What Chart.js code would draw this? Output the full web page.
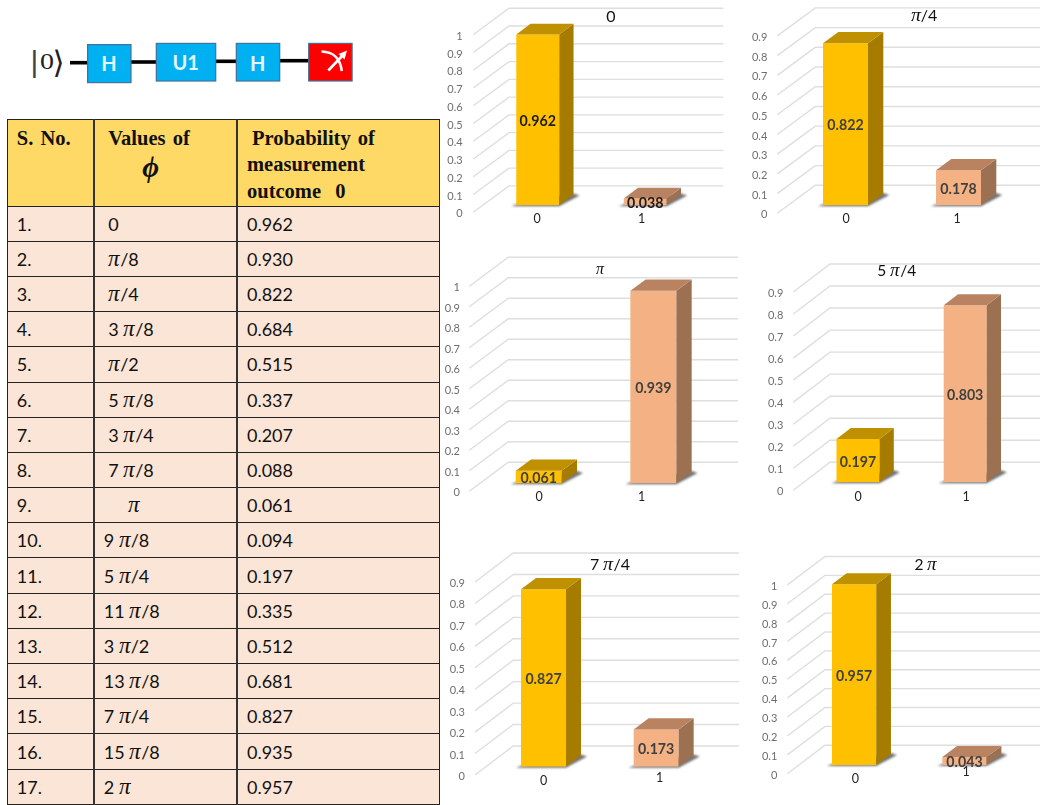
<!DOCTYPE html>
<html><head><meta charset="utf-8">
<script src="https://cdn.jsdelivr.net/npm/chart.js@4/dist/chart.umd.min.js"></script>
<style>
@font-face{font-family:"PiItalic";src:local("Liberation Serif Italic");unicode-range:U+03C0;size-adjust:125%;}
html,body{margin:0;padding:0;background:#fff;width:1041px;height:805px;overflow:hidden;}
canvas{position:absolute;display:block;}
#circuit{position:absolute;left:0;top:0;}
table{position:absolute;left:7.3px;top:119.3px;width:432px;border-collapse:collapse;table-layout:fixed;
 font:18px "PiItalic",Lato,sans-serif;color:#111;}
td,th{border:1.5px solid #222;background:#FBE5D6;padding:0 0 0 8.5px;height:35.2px;box-sizing:border-box;text-align:left;font-weight:400;white-space:pre;overflow:hidden;}
td:nth-child(2),th:nth-child(2),td:nth-child(3),th:nth-child(3){border-left:2px solid #333;}
th{background:#FFD966;height:86.3px;vertical-align:top;font:bold 20.5px/26.5px "Liberation Serif",serif;padding-top:4.5px;word-spacing:2px;}
.phi{display:block;font:italic bold 29px/33px "Liberation Serif","DejaVu Serif",serif;padding-left:34px;}
</style></head><body>
<svg id="circuit" width="440" height="110" xmlns="http://www.w3.org/2000/svg">
 <g stroke="#000" stroke-width="3.6">
  <line x1="70" y1="62.7" x2="88" y2="62.7"/><line x1="131" y1="62" x2="156" y2="62"/>
  <line x1="216" y1="61.3" x2="236" y2="61.3"/><line x1="280" y1="60.7" x2="309" y2="60.7"/>
 </g>
 <g fill="#00B0F0" stroke="#41719C" stroke-width="1.2">
  <rect x="87.6" y="44.6" width="43.4" height="38"/><rect x="156.3" y="43.4" width="59.4" height="37.6"/><rect x="236.3" y="43.4" width="43.4" height="37.6"/>
 </g>
 <rect x="308.7" y="43.4" width="43.4" height="37.6" fill="#FF0000" stroke="#41719C" stroke-width="1.2"/>
 <g font-family="Lato,sans-serif" font-weight="700" font-size="20" fill="#E6F6FD" text-anchor="middle" dominant-baseline="central">
  <text x="109" y="63.3">H</text><text x="185.7" y="62.3">U1</text><text x="257.7" y="62.7">H</text>
 </g>
 <g fill="none" stroke="#fff" stroke-width="2.6">
  <path d="M321.5 51.5 C333 52 340 57 341.8 71"/><line x1="328.3" y1="70.5" x2="343" y2="55"/>
 </g>
 <path d="M347 50.5 L338.5 54 L344.5 59.5 Z" fill="#fff"/>
 <g fill="#222">
  <text x="30.5" y="72" font-family="Liberation Sans,sans-serif" font-size="30" fill="#444">|</text>
  <text x="40" y="68.5" font-family="Liberation Serif,serif" font-size="23" textLength="14" lengthAdjust="spacingAndGlyphs">0</text>
  <text x="52.5" y="73" font-family="DejaVu Sans,sans-serif" font-size="31">⟩</text>
 </g>
</svg>
<table id="tbl"><colgroup><col style="width:86.4px"><col style="width:143.3px"><col style="width:202.3px"></colgroup>
<thead><tr><th>S. No.</th><th style="padding-left:13px">Values of<span class="phi">ϕ</span></th><th><span style="margin-left:5px">Probability of</span>
measurement
outcome  0</th></tr></thead><tbody id="rows"></tbody></table>
<script>
// ---- table data ----
const serialNumbers=['1.','2.','3.','4.','5.','6.','7.','8.','9.','10.','11.','12.','13.','14.','15.','16.','17.'];
const phaseValues=['0','π/8','π/4','3 π/8','π/2','5 π/8','3 π/4','7 π/8','π','9 π/8','5 π/4','11 π/8','3 π/2','13 π/8','7 π/4','15 π/8','2 π'];
const probabilityOfZero=['0.962','0.930','0.822','0.684','0.515','0.337','0.207','0.088','0.061','0.094','0.197','0.335','0.512','0.681','0.827','0.935','0.957'];
// ---- chart data ----
const categories=['0','1'];
const chartTitles=['0','π/4','π','5 π/4','7 π/4','2 π'];
const outcomeZero=[0.962,0.822,0.061,0.197,0.827,0.957];
const outcomeOne=[0.038,0.178,0.939,0.803,0.173,0.043];
const axisMax=[1,0.9,1,0.9,0.9,1];
// ---- layout and style ----
const frames=[
 {box:[442,0,290,232],plot:[484,699,27.7,205.3],grid:[473.3,509,723.3,7,-19.4],depth:[14.3,10.7],lab:462.7,title:[611,17,16],xl:[[537,219.3],[641.7,219.3]],ink:'#1c1c1c'},
 {box:[742,0,299,232],plot:[789,1015,27.9,205.3],grid:[777.3,815.3,1040,8,-20],depth:[15.3,11.3],lab:767.3,title:[924,15.7,16],xl:[[846,219.3],[957,219.3]],ink:'#404040'},
 {box:[442,250,296,256],plot:[481.4,710.7,278.3,483.3],grid:[469.3,508.3,738,8,-21],depth:[15.3,11.3],lab:460,title:[600,270,13],xl:[[539,496.7],[641.7,496.7]],ink:'#404040'},
 {box:[742,250,299,256],plot:[804.4,1018.8,284,482.3],grid:[793.3,830,1040,8,-20],depth:[14.3,11],lab:783.3,title:[896.7,270.7,15.5],xl:[[858,496.7],[966,496.7]],ink:'#404040'},
 {box:[442,545,298,250],plot:[487.2,712.5,573.7,766.7],grid:[475,513.3,739,8.3,-20.7],depth:[15,11.3],lab:465,title:[610,565,16],xl:[[543.7,780.7],[659.7,777.7]],ink:'#404040'},
 {box:[742,545,299,250],plot:[798.9,1019.7,576.2,765],grid:[787.3,825,1040,8.7,-19.7],depth:[14.7,11],lab:777.3,title:[926,564.5,15.5],xl:[[855.3,779.3],[966,771.7]],ink:'#404040'}
];
const barWidths=[43,45,46,43,45,44.3];
const frontColors=['#FFC000','#F4B183'];
const topColors=['#BF9000','#B98361'];
const sideColors=['#A67C00','#9C7151'];
const phaseIndent=i=>i<8?13:(i===8?33:8.5);

const rows=document.getElementById('rows');
serialNumbers.forEach((s,i)=>{
  const tr=document.createElement('tr');
  [s,phaseValues[i],probabilityOfZero[i]].forEach((t,j)=>{
    const td=document.createElement('td');td.textContent=t;
    if(j===1)td.style.paddingLeft=phaseIndent(i)+'px';
    tr.appendChild(td);
  });
  rows.appendChild(tr);
});

function face(ctx,pts,color){ctx.beginPath();pts.forEach((p,i)=>i?ctx.lineTo(p[0],p[1]):ctx.moveTo(p[0],p[1]));ctx.closePath();ctx.fillStyle=color;ctx.fill();}

const depthPlugin={
  id:'depth3d',
  afterLayout(chart,a,o){
    const t=chart.titleBlock,f=o.frame,b=f.box,s=f.title[2];
    t.left=f.title[0]-b[0]-60;t.right=f.title[0]-b[0]+60;t.top=f.title[1]-b[1]-s/2;t.bottom=t.top+s;
  },
  beforeDraw(chart,a,o){
    const sc=chart.scales.x,f=o.frame;
    sc.getLabelItems(chart.chartArea).forEach((it,i)=>{
      it.textOffset=0;it.options.textBaseline='middle';
      it.options.translation=[f.xl[i][0]-f.box[0],f.xl[i][1]-f.box[1]];
    });
  },
  beforeDatasetsDraw(chart,a,o){
    const ctx=chart.ctx,f=o.frame,b=f.box,y=chart.scales.y,g=f.grid;
    const xFront=g[0]-b[0],xBack=g[1]-b[0],xEnd=g[2]-b[0];
    ctx.save();ctx.strokeStyle='#DEDEDE';ctx.lineWidth=1.4;
    y.ticks.forEach(t=>{
      const py=y.getPixelForValue(t.value);
      ctx.beginPath();ctx.moveTo(xFront,py+g[3]);ctx.lineTo(xBack,py+g[4]);ctx.lineTo(xEnd,py+g[4]);ctx.stroke();
    });
    // cast shadow on the floor
    const [dx,dy]=f.depth;
    ctx.filter='blur(0.8px)';
    chart.getDatasetMeta(0).data.forEach(el=>{
      const L=el.x-el.width/2,R=el.x+el.width/2,B=el.base;
      face(ctx,[[L-5,B+1],[R,B+1],[R+dx+6,B-dy+1],[R+dx,B-dy-1],[L,B-1]],'rgba(70,70,70,0.75)');
    });
    ctx.restore();
  },
  afterDatasetsDraw(chart,a,o){
    const ctx=chart.ctx,f=o.frame,[dx,dy]=f.depth,ds=chart.data.datasets[0];
    ctx.save();
    chart.getDatasetMeta(0).data.forEach((el,i)=>{
      const L=el.x-el.width/2,R=el.x+el.width/2,T=el.y,B=el.base;
      face(ctx,[[R,B],[R+dx,B-dy],[R+dx,T-dy],[R,T]],sideColors[i]);
      face(ctx,[[L,T],[L+dx,T-dy],[R+dx,T-dy],[R,T]],topColors[i]);
    });
    ctx.font='bold 14.2px Lato,sans-serif';ctx.textAlign='center';ctx.textBaseline='middle';ctx.fillStyle=f.ink;
    chart.getDatasetMeta(0).data.forEach((el,i)=>{
      ctx.fillText(ds.data[i].toFixed(3),el.x,(el.y+el.base)/2+1.5);
    });
    ctx.restore();
  }
};

const charts=frames.map((f,k)=>{
  const b=f.box,p=f.plot,s=f.title[2];
  const cv=document.createElement('canvas');
  cv.width=b[2];cv.height=b[3];
  cv.style.left=b[0]+'px';cv.style.top=b[1]+'px';cv.style.width=b[2]+'px';cv.style.height=b[3]+'px';
  document.body.appendChild(cv);
  const band=(p[1]-p[0])/2;
  return new Chart(cv,{
    type:'bar',
    data:{labels:categories,datasets:[{data:[outcomeZero[k],outcomeOne[k]],backgroundColor:frontColors,borderWidth:0,barPercentage:barWidths[k]/band,categoryPercentage:1}]},
    plugins:[depthPlugin],
    options:{
      responsive:false,animation:false,
      layout:{padding:{top:p[2]-b[1]-s,left:0,bottom:0,right:b[0]+b[2]-p[1]}},
      plugins:{
        legend:{display:false},tooltip:{enabled:false},
        title:{display:true,text:chartTitles[k],color:'#111',padding:0,font:{family:'PiItalic, Lato, sans-serif',size:s,weight:'400',lineHeight:1}},
        depth3d:{frame:f}
      },
      scales:{
        x:{grid:{display:false,drawTicks:false},border:{display:false},
           ticks:{color:'#222',font:{family:'Lato, sans-serif',size:12.5},maxRotation:0},
           afterFit(sc){sc.height=b[1]+b[3]-p[3];sc.paddingLeft=0;sc.paddingRight=0;}},
        y:{min:0,max:axisMax[k],grid:{display:false,drawTicks:false},border:{display:false},
           ticks:{stepSize:0.1,color:'#6E6E6E',font:{family:'Lato, sans-serif',size:11},padding:p[0]-f.lab,labelOffset:f.grid[3]+1.5,
                  callback:v=>String(+v.toFixed(1))},
           afterFit(sc){sc.width=p[0]-b[0];sc.paddingTop=0;sc.paddingBottom=0;}}
      }
    }
  });
});
Promise.all([document.fonts.load('16px PiItalic','π'),document.fonts.load('16px Lato','0'),document.fonts.load('bold 16px Lato','0')]).then(()=>charts.forEach(c=>c.update()));
</script>
</body></html>
